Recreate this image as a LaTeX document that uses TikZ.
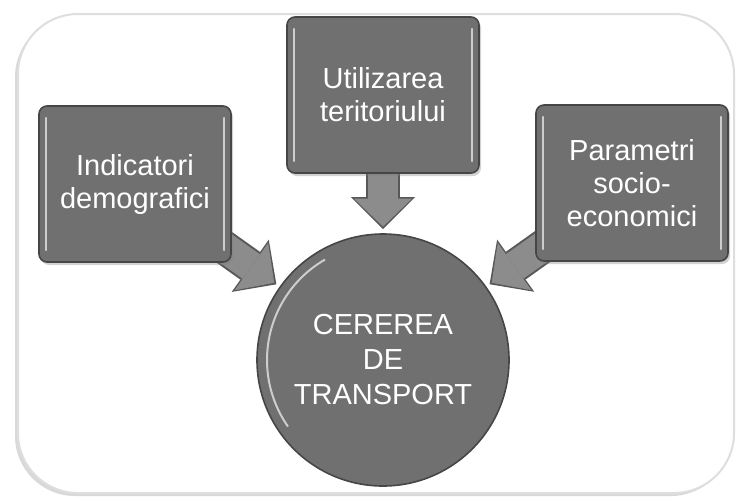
\documentclass[tikz,border=0pt]{standalone}
\usepackage{fontspec}
\setmainfont{Liberation Sans}
\usetikzlibrary{arrows.meta,positioning,backgrounds,shadows}
\definecolor{boxfill}{RGB}{112,112,112}
\definecolor{boxline}{RGB}{70,70,70}
\definecolor{arrfill}{RGB}{140,140,140}
\definecolor{arrline}{RGB}{88,88,88}
\definecolor{frameline}{RGB}{222,222,222}
\definecolor{shine}{RGB}{205,205,205}
\begin{document}
\begin{tikzpicture}[x=0.5pt,y=-0.5pt,font=\fontsize{14.5}{16.5}\selectfont]
\tikzset{factor/.style={draw=boxline,fill=boxfill,text=white,rounded corners=4pt,line width=0.8pt,align=center,
    minimum width=96pt,minimum height=78pt,inner sep=2pt,drop shadow={shadow xshift=1pt,shadow yshift=-1.5pt,opacity=0.35},
    path picture={\draw[shine,line width=1.2pt,line cap=round]
      ([xshift=3.5pt,yshift=-6pt]path picture bounding box.north west) -- ([xshift=3.5pt,yshift=6pt]path picture bounding box.south west)
      ([xshift=-3.5pt,yshift=-6pt]path picture bounding box.north east) -- ([xshift=-3.5pt,yshift=6pt]path picture bounding box.south east);}},
  demand/.style={circle,draw=boxline,fill=boxfill,text=white,line width=0.8pt,align=center,minimum size=126pt,inner sep=0pt,
    font=\fontsize{14.5}{17.5}\selectfont,
    path picture={\draw[shine,line width=1pt] ([shift={(215:58pt)}]path picture bounding box.center) arc[start angle=215,end angle=120,radius=58pt];}},
  fatrim/.style={line width=17pt,draw=arrline,shorten >=2pt,-{Triangle[length=16pt,width=32pt,line width=0pt,fill=arrline,color=arrline]}},
  fatbody/.style={line width=15pt,draw=arrfill,shorten >=3.3pt,-{Triangle[length=14pt,width=29pt,line width=0pt,fill=arrfill,color=arrfill]}}}
\useasboundingbox (0,0) rectangle (738,500);
% factori
\node[factor] (dem) at (135,184) {Indicatori\\demografici};
\node[factor] (util) at (383,95) {Utilizarea\\teritoriului};
\node[factor] (param) at (632,183) {Parametri\\socio-\\economici};
% cererea
\node[demand] (cer) at (383,360) {CEREREA\\DE\\TRANSPORT};
\begin{scope}[on background layer]
\draw[frameline,fill=white,line width=1pt,rounded corners=30pt,drop shadow={shadow xshift=-1.5pt,shadow yshift=-1.5pt,opacity=0.3}] (18,14) rectangle (734,493);
\foreach \src in {dem,util,param}{
  \draw[fatrim] (\src.center) -- (cer);
  \draw[fatbody] (\src.center) -- (cer);}
\end{scope}
\end{tikzpicture}
\end{document}
